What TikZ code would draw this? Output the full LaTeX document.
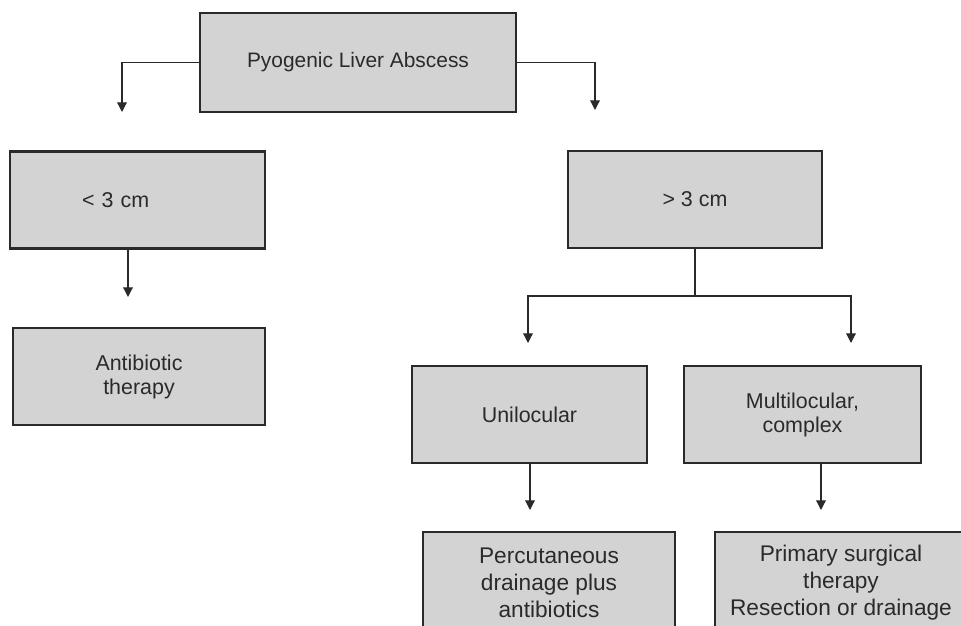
\documentclass[tikz,border=0pt]{standalone}
\usepackage{fontspec}
\setmainfont{Liberation Sans}
\usetikzlibrary{arrows.meta}
\definecolor{boxgray}{HTML}{D3D3D3}
\definecolor{ink}{HTML}{2A2A2A}
\tikzset{
  box/.style={draw=ink, fill=boxgray, line width=1.2pt, text=ink, align=center,
    minimum height=1.94cm, font=\fontsize{12.2}{13.7}\selectfont},
  tall/.style={minimum height=2.04cm, font=\fontsize{12.9}{15.4}\selectfont},
  link/.style={draw=ink, line width=0.7pt},
  arr/.style={link, -{Triangle[width=5.5pt,length=5.5pt]}}
}

\begin{document}
\begin{tikzpicture}[x=0.02cm, y=-0.02cm]
  \useasboundingbox (0,0) rectangle (961,626);
  \clip (0,0) rectangle (961,626);
  \node[box, minimum width=6.32cm, minimum height=1.98cm, font=\fontsize{11.9}{13.7}\selectfont] (pla) at (358,62.5) {Pyogenic Liver Abscess};
  \node[box, text width=2.22cm, inner xsep=1.44cm, align=left] (lt3) at (137.5,200) {< 3 cm};
  \node[box, minimum width=5.08cm] (gt3) at (695,199.5) {> 3 cm};
  \node[box, minimum width=5.04cm] (ab) at (139,376.5) {Antibiotic\\therapy};
  \node[box, minimum width=4.7cm] (uni) at (529.5,414.5) {Unilocular};
  \node[box, minimum width=4.74cm] (multi) at (802.5,414.5) {Multilocular,\\complex};
  \node[box, tall, minimum width=5.04cm] (perc) at (549,583) {Percutaneous\\drainage plus\\antibiotics};
  \node[box, tall, minimum width=5.04cm] (surg) at (841,583) {Primary surgical\\therapy\\Resection or drainage};
  \coordinate (l1) at (122,112);
  \coordinate (r1) at (595,110);
  \coordinate (l2) at (128,297);
  \coordinate (j) at (695,296);
  \coordinate (u1) at (528,343);
  \coordinate (m1) at (851,343);
  \coordinate (u2) at (530,510);
  \coordinate (m2) at (821,510);
  \draw[arr] (pla.west) -| (l1);
  \draw[arr] (pla.east) -| (r1);
  \draw[arr] (lt3.south -| l2) -- (l2);
  \draw[link] (gt3.south) -- (j);
  \draw[arr] (j) -| (u1);
  \draw[arr] (j) -| (m1);
  \draw[arr] (uni.south -| u2) -- (u2);
  \draw[arr] (multi.south -| m2) -- (m2);
\end{tikzpicture}
\end{document}
